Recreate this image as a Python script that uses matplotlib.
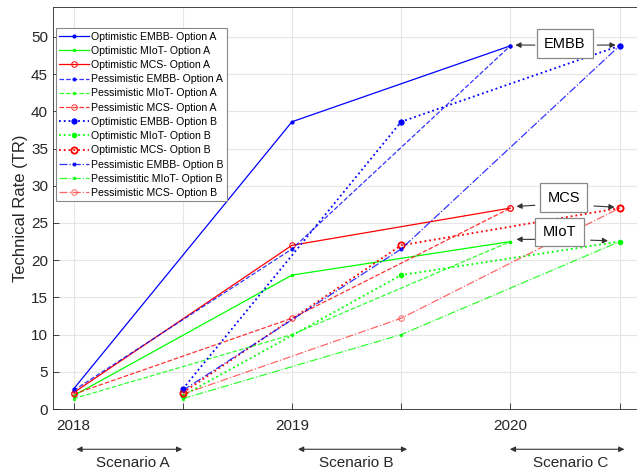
import numpy as np
import matplotlib
matplotlib.use('Agg')
import matplotlib.pyplot as plt

plt.rcParams['font.family'] = ['Liberation Sans', 'DejaVu Sans']

# Periods (half-year steps)
periods = [0, 1, 2, 3, 4, 5]
tick_labels = ['2018', '', '2019', '', '2020', '']

# Option A uses periods 0, 2, 4 ; Option B uses 1, 3, 5
xa = [0, 2, 4]
xb = [1, 3, 5]

opt_embb = [2.7, 38.6, 48.8]
opt_miot = [1.8, 18.0, 22.5]
opt_mcs = [2.2, 22.0, 27.0]
pes_embb = [2.5, 21.5, 48.8]
pes_miot = [1.4, 10.0, 22.5]
pes_mcs = [2.0, 12.2, 27.0]

fig = plt.figure(figsize=(6.37, 4.74), dpi=100)
ax = fig.add_axes([0.083, 0.137, 0.917, 0.848])

lw = 0.9
ax.plot(xa, opt_embb, '-', color='b', marker='.', ms=4, lw=lw, label='Optimistic EMBB- Option A')
ax.plot(xa, opt_miot, '-', color='#00ff00', marker='.', ms=3, lw=lw, label='Optimistic MIoT- Option A')
ax.plot(xa, opt_mcs, '-', color='r', marker='o', ms=4, mfc='none', mew=0.7, lw=lw, label='Optimistic MCS- Option A')
ax.plot(xa, pes_embb, '--', color='b', marker='.', ms=4, lw=lw, alpha=0.8, label='Pessimistic EMBB- Option A')
ax.plot(xa, pes_miot, '--', color='#00ff00', marker='.', ms=3, lw=lw, alpha=0.8, label='Pessimistic MIoT- Option A')
ax.plot(xa, pes_mcs, '--', color='r', marker='o', ms=4, mfc='none', mew=0.7, lw=lw, alpha=0.8, label='Pessimistic MCS- Option A')
ax.plot(xb, opt_embb, ':', color='b', marker='.', ms=7, lw=1.3, label='Optimistic EMBB- Option B')
ax.plot(xb, opt_miot, ':', color='#00ff00', marker='.', ms=6, lw=1.3, label='Optimistic MIoT- Option B')
ax.plot(xb, opt_mcs, ':', color='r', marker='o', ms=4.5, mfc='none', mew=1.3, lw=1.3, label='Optimistic MCS- Option B')
ax.plot(xb, pes_embb, '-.', color='b', marker='.', ms=4, lw=lw, alpha=0.8, label='Pessimistic EMBB- Option B')
ax.plot(xb, pes_miot, '-.', color='#00ff00', marker='.', ms=3, lw=lw, alpha=0.8, label='Pessimistitic MIoT- Option B')
ax.plot(xb, pes_mcs, '-.', color='r', marker='o', ms=4, mfc='none', mew=0.7, lw=lw, alpha=0.6, label='Pessimistic MCS- Option B')

ax.set_xlim(-0.19, 5.16)
ax.set_ylim(0, 54)
ax.set_xticks(periods)
ax.set_xticklabels(tick_labels)
ax.set_yticks(np.arange(0, 51, 5))
ax.tick_params(direction='in', length=4, labelsize=11, colors='#262626', width=0.6)
ax.tick_params(axis='x', pad=7)
ax.grid(True, color='#e6e6e6', lw=0.8)
ax.set_axisbelow(True)
for s in ax.spines.values():
    s.set_color('#262626')
    s.set_linewidth(0.6)
ax.set_ylabel('Technical Rate (TR)', fontsize=12, color='#262626', labelpad=2)

leg = ax.legend(loc='upper left', bbox_to_anchor=(0.0, 0.955), fontsize=7.6,
                handlelength=2.8, handletextpad=0.2, labelspacing=0.4,
                borderaxespad=0.3, borderpad=0.3,
                fancybox=False, edgecolor='#888888', framealpha=1)
leg.get_frame().set_linewidth(0.8)

bbox = dict(boxstyle='square,pad=0.5', fc='white', ec='#888888', lw=0.9)
arrow = dict(arrowstyle='-|>', color='#333333', lw=0.8, mutation_scale=8)


def label_with_arrows(text, tx, ty, left_from, left_to, right_from, right_to):
    ax.text(tx, ty, text, fontsize=10.5, ha='center', va='center', bbox=bbox, zorder=5)
    ax.annotate('', xy=left_to, xytext=left_from, arrowprops=arrow)
    ax.annotate('', xy=right_to, xytext=right_from, arrowprops=arrow)


label_with_arrows('EMBB', 4.5, 49.1, (4.25, 48.9), (4.02, 48.9), (4.77, 48.9), (4.99, 48.9))
label_with_arrows('MCS', 4.49, 28.4, (4.25, 27.4), (4.03, 27.2), (4.74, 27.3), (4.98, 27.1))
label_with_arrows('MIoT', 4.45, 23.8, (4.25, 22.8), (4.03, 22.8), (4.71, 22.7), (4.92, 22.6))

# Scenario arrows under the axis
sc_arrow = dict(arrowstyle='<|-|>', color='#333333', lw=0.8, mutation_scale=8)
scen = [('Scenario A', 0.0, 1.02), ('Scenario B', 2.03, 3.08), ('Scenario C', 3.97, 5.07)]
for name, x0, x1 in scen:
    ax.annotate('', xy=(x0, -5.4), xytext=(x1, -5.4), xycoords=('data', 'data'),
                arrowprops=sc_arrow, annotation_clip=False)
    ax.text((x0 + x1) / 2 + 0.03, -7.3, name, fontsize=11, ha='center', va='center',
            color='#262626', clip_on=False)

fig.savefig('out.png', dpi=100)
